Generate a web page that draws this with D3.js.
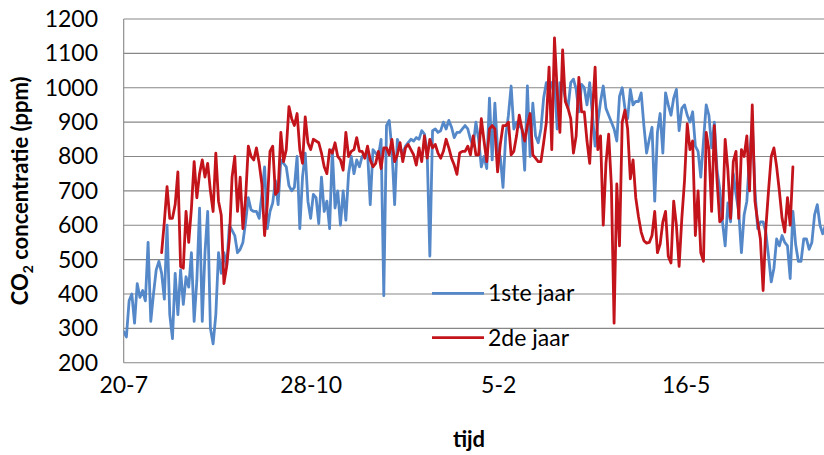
<!DOCTYPE html>
<html><head><meta charset="utf-8">
<script src="https://cdn.jsdelivr.net/npm/d3@7/dist/d3.min.js"></script>
<style>
body{margin:0;background:#fff}
svg{display:block}
text{font-family:Lato,"Open Sans",sans-serif;fill:#000}
</style>
</head><body>
<svg id="chart" width="824" height="455"></svg>
<script>
// ---- data ----
const yTickValues = [200, 300, 400, 500, 600, 700, 800, 900, 1000, 1100, 1200];
const xTickLabels = ["20-7", "28-10", "5-2", "16-5"];
const xTickDays = [0, 100, 200, 300];
const seriesNames = ["1ste jaar", "2de jaar"];
const seriesColors = ["#5588c8", "#c3141c"];
const sampleStepDays = 1.445;   // days between plotted samples
const blueStartSample = 0;
const redStartSample = 14;

const blueValues = [
290,275,380,400,315,430,390,410,380,550,
320,400,470,495,460,385,600,340,270,460,
340,470,370,450,420,520,320,440,650,320,
520,640,300,255,340,520,460,520,480,600,
585,570,520,530,550,610,680,645,640,640,
620,690,770,590,640,665,730,660,790,780,
770,715,700,710,800,590,740,810,670,620,
690,680,605,740,640,670,590,820,650,700,
600,700,615,750,800,750,790,770,800,805,
815,660,820,810,800,850,395,890,905,820,
660,850,825,810,830,840,850,845,855,850,
875,865,815,510,875,880,870,875,900,880,
905,885,855,870,870,880,890,880,850,830,
900,850,770,800,765,970,790,955,820,800,
710,860,920,1005,880,900,890,880,760,1005,
800,955,860,840,880,970,1015,985,1015,1020,
880,1015,1005,970,940,1015,1025,995,930,1010,
1000,950,1015,920,830,900,960,1005,940,920,
900,880,845,975,1000,940,910,995,950,960,
960,985,890,810,850,885,670,870,925,810,
985,950,920,970,995,875,940,950,920,900,
930,830,815,740,845,950,920,825,900,760,
705,610,540,665,610,750,690,640,520,630,
670,800,900,700,590,610,610,580,510,435,
475,560,540,570,550,540,445,640,545,495,
495,560,560,530,550,630,660,600,575,600
];

const redValues = [
520,610,712,620,620,660,755,480,475,640,
550,650,785,680,750,790,740,780,700,640,
810,670,630,430,480,560,740,800,640,740,
590,680,830,800,790,825,780,720,570,660,
815,830,690,700,870,785,820,945,910,890,
925,820,780,915,840,820,850,845,840,810,
770,750,820,810,840,800,790,760,870,800,
815,820,855,815,815,795,830,790,770,780,
815,765,825,825,805,850,785,805,840,785,
825,835,820,805,775,825,785,860,795,850,
825,835,810,795,815,850,825,795,775,748,
810,815,815,830,805,860,805,805,910,845,
785,880,890,880,755,835,890,890,900,805,
815,860,920,880,845,890,925,805,795,785,
785,840,900,1060,820,1145,990,870,1110,960,
940,910,810,860,1030,930,930,845,780,930,
1060,820,860,600,780,865,715,315,720,540,
900,935,880,735,790,680,625,580,555,548,
550,570,640,520,545,610,640,510,490,670,
600,480,620,730,895,820,845,570,700,520,
495,870,820,640,890,730,610,620,850,760,
620,785,815,620,820,800,860,700,950,670,
610,560,410,590,700,800,825,770,700,620,
580,680,600,770
];

// ---- layout ----
const W = 824, H = 455;
const plot = {left: 123.7, right: 824, top: 19, bottom: 362.7};

const svg = d3.select("#chart");
svg.append("rect").attr("width", W).attr("height", H).attr("fill", "#fff");

const x = d3.scaleLinear().domain([0, 373.5]).range([plot.left, plot.right]);
const y = d3.scaleLinear().domain([200, 1200]).range([plot.bottom, plot.top]);

svg.append("defs").append("clipPath").attr("id", "clip")
  .append("rect").attr("x", plot.left).attr("y", 0)
  .attr("width", plot.right - plot.left + 10).attr("height", H);

// gridlines
svg.append("g").selectAll("line").data(yTickValues).join("line")
  .attr("x1", plot.left).attr("x2", plot.right)
  .attr("y1", d => y(d)).attr("y2", d => y(d))
  .attr("stroke", "#878787").attr("stroke-width", 1.1);

// left axis line
svg.append("line").attr("x1", plot.left).attr("x2", plot.left)
  .attr("y1", y(1200)).attr("y2", y(200))
  .attr("stroke", "#878787").attr("stroke-width", 1.1);

// y tick labels
svg.append("g").selectAll("text").data(yTickValues).join("text")
  .attr("x", 98).attr("y", d => y(d) + 8)
  .attr("text-anchor", "end").attr("font-size", 23)
  .text(d => d);

// x tick labels
svg.append("g").selectAll("text").data(xTickDays).join("text")
  .attr("x", d => x(d)).attr("y", 393)
  .attr("text-anchor", "middle").attr("font-size", 23)
  .text((d, i) => xTickLabels[i]);

// axis titles
const yt = svg.append("text")
  .attr("transform", `translate(28,${(plot.top + plot.bottom) / 2}) rotate(-90)`)
  .attr("text-anchor", "middle").attr("font-size", 22).attr("font-weight", "bold");
yt.append("tspan").text("CO");
yt.append("tspan").attr("font-size", 14).attr("dy", 5).text("2");
yt.append("tspan").attr("dy", -5).text(" concentratie (ppm)");

svg.append("text").attr("x", 469).attr("y", 447)
  .attr("text-anchor", "middle").attr("font-size", 22).attr("font-weight", "bold")
  .text("tijd");

// series
const series = [
  {name: seriesNames[0], color: seriesColors[0], start: blueStartSample, values: blueValues},
  {name: seriesNames[1], color: seriesColors[1], start: redStartSample, values: redValues}
];
const g = svg.append("g").attr("clip-path", "url(#clip)");
series.forEach(s => {
  const line = d3.line()
    .x((d, i) => x((s.start + i) * sampleStepDays))
    .y(d => y(d));
  g.append("path").datum(s.values)
    .attr("d", line).attr("fill", "none")
    .attr("stroke", s.color).attr("stroke-width", 2.8)
    .attr("stroke-linejoin", "round").attr("stroke-linecap", "round");
});

// legend
const legendY = [293.3, 337.7];
series.forEach((s, i) => {
  svg.append("line").attr("x1", 432).attr("x2", 484)
    .attr("y1", legendY[i]).attr("y2", legendY[i])
    .attr("stroke", s.color).attr("stroke-width", 2.8);
  svg.append("text").attr("x", 488).attr("y", legendY[i] + 8)
    .attr("font-size", 23).text(s.name);
});
</script>
</body></html>
